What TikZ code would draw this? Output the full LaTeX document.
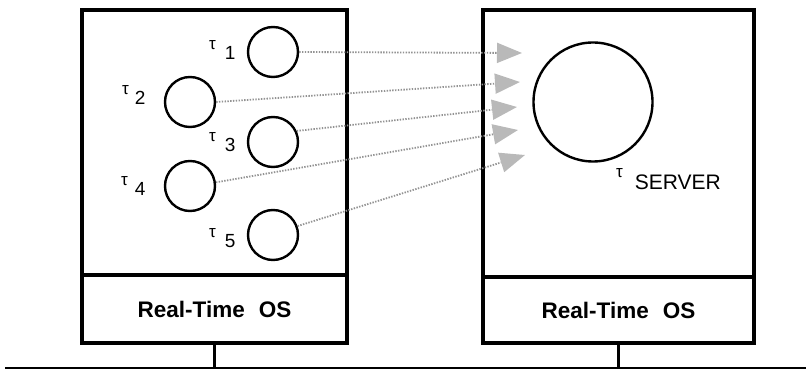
\documentclass[tikz,border=0pt]{standalone}
\usepackage{fontspec}
\setmainfont{Liberation Sans}
\usetikzlibrary{arrows.meta}
\tikzset{
  unitbox/.style={draw, line width=3.4pt, rectangle, inner sep=0pt},
  task/.style={draw, circle, line width=2.4pt, minimum size=50pt, inner sep=0pt},
  server/.style={draw, circle, line width=2.4pt, minimum size=119pt, inner sep=0pt},
  oslabel/.style={font=\bfseries\fontsize{22.5}{22.5}\selectfont},
  tlabel/.style={anchor=base west, inner sep=0pt},
  msg/.style={draw=gray!85, line width=1.8pt, dash pattern=on 1.4pt off 1.4pt,
    -{Triangle[length=25pt,width=20pt,fill=gray!55,color=gray!55]}},
  wire/.style={line width=2.4pt}
}
\newcommand{\tasklbl}[2]{{\fontsize{17}{17}\selectfont τ}\hspace{#2}\raisebox{-10pt}{\fontsize{19}{19}\selectfont #1}}
\begin{document}
\begin{tikzpicture}[x=1pt,y=-1pt]
\useasboundingbox (0,0) rectangle (806,379);

% processor nodes: application area above, kernel below
\node[unitbox, minimum width=265pt, minimum height=265pt] (lapp) at (214.5,142.5) {};
\node[unitbox, minimum width=265pt, minimum height=68pt, oslabel] (los) at (214.5,309) {Real-Time\hspace{14pt}OS};
\node[unitbox, minimum width=271pt, minimum height=267pt] (rapp) at (618.5,143.5) {};
\node[unitbox, minimum width=271pt, minimum height=66pt, oslabel] (ros) at (618.5,310) {Real-Time\hspace{14pt}OS};

% client tasks
\node[task] (c1) at (273,52) {};
\node[task] (c2) at (190,102) {};
\node[task] (c3) at (273,142) {};
\node[task] (c4) at (190,186) {};
\node[task] (c5) at (273,235) {};
\node[tlabel] (l1) at (209,50) {\tasklbl{1}{9pt}};
\node[tlabel] (l2) at (122,95) {\tasklbl{2}{6pt}};
\node[tlabel] (l3) at (209,142) {\tasklbl{3}{9pt}};
\node[tlabel] (l4) at (121,186) {\tasklbl{4}{7pt}};
\node[tlabel] (l5) at (209,238) {\tasklbl{5}{9pt}};

% server task
\node[server] (srv) at (593,102) {};
\node[tlabel] (ls) at (616,178) {{\fontsize{17}{17}\selectfont τ}\hspace{12pt}\raisebox{-12pt}{\fontsize{21}{21}\selectfont SERVER}};

% message arrows
\coordinate (h1) at (522,53);
\coordinate (h2) at (520,82);
\coordinate (h3) at (517,107);
\coordinate (h4) at (518,130);
\coordinate (h5) at (525,155);
\draw[msg] (c1.east) -- (h1);
\draw[msg] (c2.east) -- (h2);
\draw[msg] (c3.25) -- (h3);
\draw[msg] (c4.8) -- (h4);
\draw[msg] (c5.20) -- (h5);

% network bus
\coordinate (busl) at (5,368);
\coordinate (busr) at (806,368);
\draw[wire] (busl) -- (busr);
\draw[wire] (los.south) -- (los.south |- busl);
\draw[wire] (ros.south) -- (ros.south |- busl);
\end{tikzpicture}
\end{document}
